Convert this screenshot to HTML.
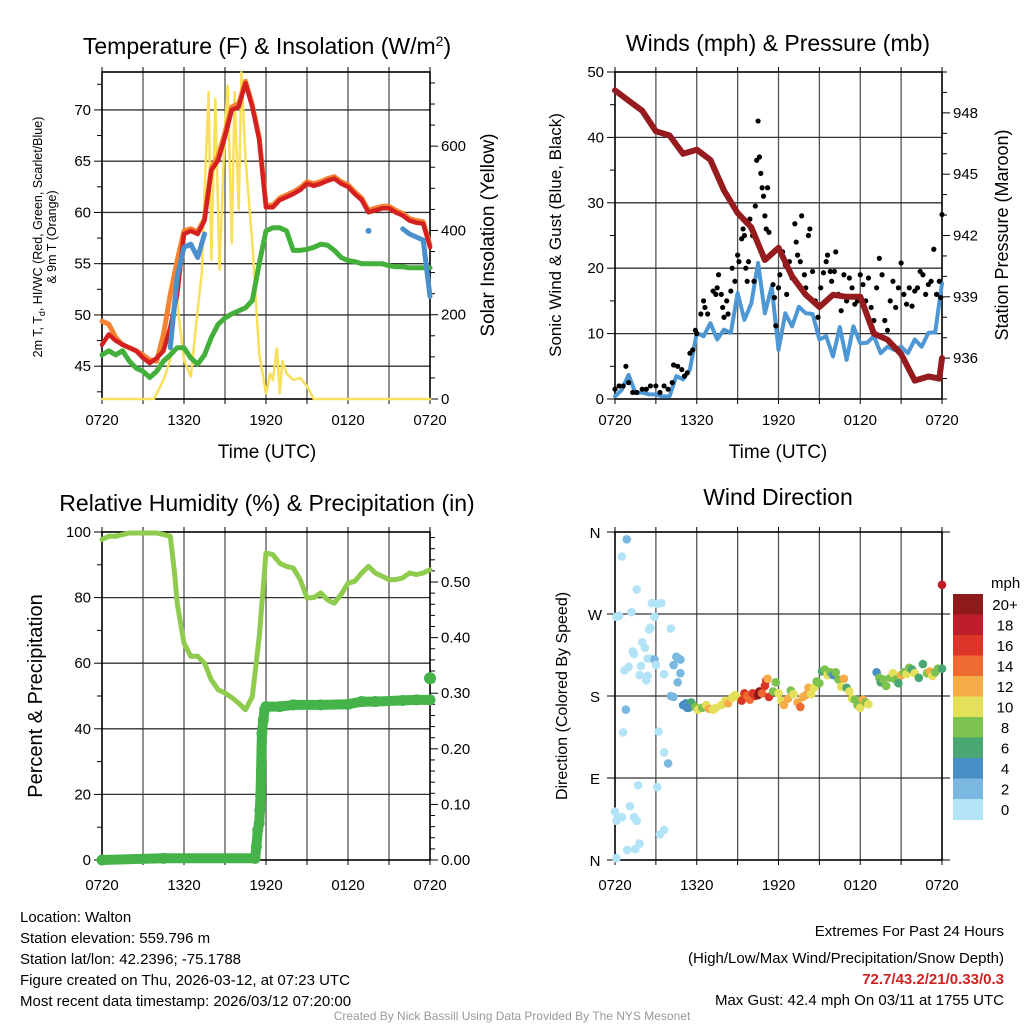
<!DOCTYPE html>
<html><head><meta charset="utf-8"><style>
html,body{margin:0;padding:0;background:#fff;}
svg{display:block;font-family:"Liberation Sans",Arial,sans-serif;}
</style></head><body>
<svg id="c" width="1024" height="1024" viewBox="0 0 1024 1024" xmlns="http://www.w3.org/2000/svg">
<g id="layer"></g>
<text x="267" y="54" font-size="23" text-anchor="middle">Temperature (F) &amp; Insolation (W/m<tspan dy="-8" font-size="14">2</tspan><tspan dy="8">)</tspan></text>
<text x="778" y="51" font-size="23" text-anchor="middle">Winds (mph) &amp; Pressure (mb)</text>
<text x="267" y="511" font-size="23" text-anchor="middle">Relative Humidity (%) &amp; Precipitation (in)</text>
<text x="778" y="505" font-size="23" text-anchor="middle">Wind Direction</text>
<text x="267" y="458" font-size="19" text-anchor="middle">Time (UTC)</text>
<text x="778" y="458" font-size="19" text-anchor="middle">Time (UTC)</text>
<text transform="translate(42,237) rotate(-90)" font-size="12.5" text-anchor="middle">2m T, T<tspan dy="3" font-size="9">d</tspan><tspan dy="-3">, HI/WC (Red, Green, Scarlet/Blue)</tspan></text>
<text transform="translate(56,237) rotate(-90)" font-size="12.5" text-anchor="middle">&amp; 9m T (Orange)</text>
<text transform="translate(494,235) rotate(-90)" font-size="19" text-anchor="middle">Solar Insolation (Yellow)</text>
<text transform="translate(561,235) rotate(-90)" font-size="17" text-anchor="middle">Sonic Wind &amp; Gust (Blue, Black)</text>
<text transform="translate(1008,235) rotate(-90)" font-size="18" text-anchor="middle">Station Pressure (Maroon)</text>
<text transform="translate(42,696) rotate(-90)" font-size="20" text-anchor="middle">Percent &amp; Precipitation</text>
<text transform="translate(567,696) rotate(-90)" font-size="16" text-anchor="middle">Direction (Colored By Speed)</text>
<text x="991" y="588" font-size="15">mph</text>
<g font-size="15">
<text x="20" y="922">Location: Walton</text>
<text x="20" y="943">Station elevation: 559.796 m</text>
<text x="20" y="964">Station lat/lon: 42.2396; -75.1788</text>
<text x="20" y="985">Figure created on Thu, 2026-03-12, at 07:23 UTC</text>
<text x="20" y="1006">Most recent data timestamp: 2026/03/12 07:20:00</text>
</g>
<g font-size="15" text-anchor="end">
<text x="1004" y="936">Extremes For Past 24 Hours</text>
<text x="1004" y="963">(High/Low/Max Wind/Precipitation/Snow Depth)</text>
<text x="1004" y="984" fill="#cc2222" font-weight="bold">72.7/43.2/21/0.33/0.3</text>
<text x="1004" y="1005">Max Gust: 42.4 mph On 03/11 at 1755 UTC</text>
</g>
<text x="512" y="1020" font-size="12" fill="#999" text-anchor="middle">Created By Nick Bassill Using Data Provided By The NYS Mesonet</text>
</svg>
<script>
// ---------- data ----------
const hh = [0,0.5,1,1.5,2,2.5,3,3.5,4,4.5,5,5.5,6,6.5,7,7.5,8,8.5,9,9.5,10,10.5,11,11.5,12,12.5,13,13.5,14,14.5,15,15.5,16,16.5,17,17.5,18,18.5,19,19.5,20,20.5,21,21.5,22,22.5,23,23.5,24];
const xTickLabels = ["0720","1320","1920","0120","0720"];
const tempRed = [47.1,48.1,47.5,47.1,46.8,46.5,45.8,45.3,45.8,46.5,48.8,52.0,57.9,58.2,57.9,59.2,64.1,65.1,67.4,70.0,70.3,72.6,70.3,67.1,60.5,60.5,61.2,61.5,61.8,62.2,62.8,62.6,62.8,63.1,63.3,62.8,62.5,61.8,61.2,60.0,60.2,60.4,60.4,60.0,59.7,59.2,59.0,58.9,56.6];
const temp9m = [49.4,49.1,47.8,47.1,46.8,46.5,46.1,45.6,45.5,48.1,52.0,55.3,58.2,58.4,58.1,59.4,64.3,65.5,67.8,70.3,70.6,72.8,70.5,67.3,60.7,60.7,61.4,61.7,62.0,62.4,63.0,62.8,63.0,63.3,63.5,63.0,62.7,62.0,61.4,60.2,60.4,60.6,60.6,60.2,59.9,59.4,59.2,59.1,56.8];
const tempHiWc = [null,null,null,null,null,null,null,null,null,null,46.8,53.7,56.6,56.9,55.6,57.9,null,null,null,null,null,null,null,null,null,null,null,null,null,null,null,null,null,null,null,null,null,null,null,58.2,null,null,null,null,58.4,57.9,57.6,57.3,51.8];
const dewpt = [46.1,46.5,46.1,46.5,45.5,44.8,44.5,43.9,44.5,45.5,46.1,46.8,46.8,45.8,45.2,46.1,47.8,49.1,49.7,50.1,50.4,50.7,51.4,55.0,58.2,58.5,58.5,58.2,56.3,56.3,56.4,56.6,56.9,56.8,56.3,55.6,55.3,55.2,55.0,55.0,55.0,55.0,54.8,54.7,54.7,54.6,54.6,54.6,54.6];
const solarT = [0,3.8,4,4.5,5,5.2,5.4,5.6,6,6.5,7,7.3,7.5,7.8,8,8.3,8.6,9,9.2,9.5,9.7,10,10.2,10.5,11,11.5,12,12.3,12.5,12.8,13,13.2,13.5,14,14.5,15,15.5,24];
const solarV = [0,0,13,45,93,180,280,200,93,53,212,300,490,728,330,712,307,648,744,370,728,450,775,569,370,108,13,60,45,120,13,90,61,45,50,30,0,0];
const presT = [0,1,2,3,4,5,6,7,8,9,10,11,12,13,14,15,16,17,18,19,20,21,22,23,23.8,24];
const presV = [949.1,948.6,948.1,947.1,946.9,946.0,946.2,945.7,944.2,943.1,942.4,940.8,941.4,940.0,939.1,938.5,939.1,939.0,939.0,937.2,936.9,936.2,934.9,935.1,935.0,936.0];
const sonic = [0.4,1.4,3.7,0.9,1.0,0.7,0.7,0.4,0.4,3.5,3.0,4.5,10.1,9.6,11.6,9.1,10.6,10.1,16.2,12.1,14.6,20.8,13.1,17.2,7.5,13.1,11.1,14.1,13.1,13.0,9.1,9.6,6.5,11.0,6.0,11.1,8.5,8.6,9.6,7.0,8.0,7.5,8.0,7.0,9.1,8.0,10.1,10.2,17.7];
const gustT = [0,0.3,0.6,0.8,1.0,1.3,1.6,2,2.3,2.6,3,3.3,3.6,3.9,4.2,4.3,4.6,4.9,5.1,5.3,5.5,5.7,5.9,6.0,6.3,6.5,6.6,6.8,7.2,7.4,7.5,7.6,7.8,7.9,8.0,8.2,8.3,8.5,8.6,8.8,9.0,9.1,9.3,9.4,9.5,9.6,9.7,9.8,9.9,10.0,10.1,10.2,10.3,10.4,10.5,10.6,10.7,10.8,10.9,11.0,11.1,11.2,11.3,11.6,11.7,11.8,12.0,12.1,12.3,12.5,12.6,12.8,13.0,13.2,13.3,13.4,13.6,13.7,13.9,14.0,14.2,14.3,14.5,14.7,14.9,15.1,15.3,15.5,15.6,15.8,15.9,16.1,16.2,16.4,16.6,16.8,17.0,17.2,17.4,17.6,17.8,18.0,18.2,18.4,18.6,18.8,19.0,19.2,19.4,19.6,19.8,20.0,20.2,20.4,20.6,20.8,21.0,21.2,21.4,21.6,21.8,22.0,22.2,22.4,22.6,22.8,23.0,23.2,23.4,23.6,23.8,23.9,24.0];
const gustV = [1.5,2,2,5,2.5,1,1,1.5,1.5,2,2,1,2,1.5,2.5,5.2,5,4.5,3.5,4,7,7.5,10.5,10,13,15,14,13,16.5,16,17,19,16,14,12.5,15,13,16.5,20,18,22,21,24.5,26,25,20,18,21,27.5,26,25,18,29.5,36.5,42.5,37,34.5,32.3,31,28,26,32.3,25.5,17.5,15.5,11.2,17,19,22.5,20.5,16,21,18.5,26.8,24,22,21,28,19,17,25,26,19.5,15,12.5,17,19.3,21,22,19.5,18,19.5,22.5,16,13.5,19,15,18.5,17,14.5,15,19,17.5,15,18.5,14,12,17,21.5,19,12,10.5,15,18,14,17,20.8,16,14.5,17,14.2,16.5,17,19.5,19,16,17.5,18,22.9,16,18,15.5,28.2];
const rhT = [0,0.5,1,1.5,2,3,4,4.5,5,5.3,5.5,6,6.5,7,7.5,8,8.5,9,9.5,10,10.5,11,11.5,11.8,12,12.5,13,13.5,14,14.5,15,15.5,16,16.5,17,17.5,18,18.5,19,19.5,20,20.5,21,21.5,22,22.5,23,23.5,24];
const rhV = [97.7,98.7,98.7,99.2,99.7,99.7,99.7,99.2,98.7,88,78.3,66.1,62.1,62.1,60,54.9,51.9,50.9,49.5,47.8,45.8,49.8,68,83.4,93.6,93.1,90.5,89.5,89,85.5,79.9,80,81.4,79.3,78.3,81,84.4,85,87.5,89.5,87.5,86.5,85.5,85.5,86,87.5,87,87.5,88.5];
const prT = [0,4.5,11.2,11.3,11.4,11.5,11.55,11.6,11.7,11.8,11.9,12,13,14,16,18,19,20,22,23,24];
const prV = [0,0.003,0.003,0.024,0.054,0.066,0.09,0.117,0.228,0.252,0.27,0.276,0.276,0.279,0.279,0.28,0.285,0.285,0.287,0.288,0.288];
const prLast = [24,0.327];
const dirT = [0.86,0.5,1.6,0.3,0.1,1.2,2.7,3.1,3.4,2.9,4.1,2.5,2.6,2.0,2.2,1.3,1.4,2.4,2.7,2.9,3.0,1.0,0.7,1.9,1.8,2.4,2.3,3.6,0.8,0.6,3.2,3.6,3.9,1.7,3.1,1.1,0.0,0.5,0.1,0.2,1.4,1.6,3.6,3.3,1.8,1.5,0.9,0.1,4.5,4.6,4.8,4.3,4.8,4.6,4.1,4.3,5.0,5.2,5.4,5.6,5.3,5.9,6.1,6.4,6.7,6.9,7.2,7.4,7.8,8.1,8.3,8.6,8.8,9.1,9.3,9.5,9.7,9.9,10.1,10.3,10.5,10.6,10.8,11.0,11.1,11.2,11.3,11.6,11.8,12.0,12.2,12.4,12.7,12.9,13.1,13.4,13.6,13.8,14.0,14.2,14.4,14.6,14.8,15.0,15.2,15.4,15.6,15.8,16.0,16.2,16.4,16.6,16.8,17.0,17.2,17.4,17.6,17.8,18.0,18.2,18.4,18.6,19.2,19.4,19.5,19.7,19.9,20.2,20.4,20.6,20.8,21.0,21.2,21.4,21.6,21.8,22.0,22.3,22.6,22.9,23.1,23.3,23.5,23.7,24.0,24.0];
const dirDeg = [352,333,297,268,267,272,282,281,282,267,254,253,255,239,233,229,226,221,221,220,214,212,208,213,203,202,197,204,165,140,141,118,106,82,80,59,53,47,43,47,47,43,33,28,18,12,11,2,223,222,220,214,205,195,180,179,170,172,167,173,167,168,165,167,170,166,165,167,170,175,172,178,181,178,175,183,180,176,183,180,181,185,183,191,197,199,179,185,195,183,175,170,177,186,182,173,168,179,181,189,182,189,196,194,207,209,203,206,203,206,198,190,199,189,185,177,176,170,167,176,173,171,206,200,195,198,191,200,205,198,194,203,206,204,211,209,205,200,215,205,207,202,206,210,210,302];
const dirSpd = [3,1,1,1,1,1,1,1,1,1,1,1,1,1,1,1,1,1,1,3,1,1,1,1,1,1,1,1,3,1,1,1,3,1,1,1,1,1,1,1,1,1,1,1,1,1,1,1,2,2,2,2,3,3,2,2,4,5,6,6,5,8,10,8,10,12,10,10,10,10,13,11,10,10,17,17,15,14,16,16,20,20,15,16,17,12,17,8,8,10,10,12,12,8,10,12,14,12,12,13,11,10,8,8,6,8,10,9,5,8,8,10,12,7,10,10,8,8,10,12,8,10,4,8,6,9,8,8,10,8,6,12,8,10,8,6,10,7,6,8,12,10,9,8,6,18];
const cbLabels = ["20+","18","16","14","12","10","8","6","4","2","0"];
const cbColors = ["#8e1a1c","#be1e2a","#dc3426","#ef6a30","#f6ac48","#e5e05a","#7cc24e","#4aa673","#4a8ec6","#7ab8e2","#b3e3f7"];

// ---------- drawing ----------
const NS="http://www.w3.org/2000/svg";
const layer=document.getElementById('layer');
function mk(tag,attrs,parent){const e=document.createElementNS(NS,tag);for(const k in attrs)e.setAttribute(k,attrs[k]);(parent||layer).appendChild(e);return e;}
function scale(d0,d1,r0,r1){return v=>r0+(v-d0)/(d1-d0)*(r1-r0);}

function frame(L,R,T,B,name,xLabels,lblOff){
  const g=mk('g',{});
  
  
  const X=scale(0,24,L,R);
  for(let h=3;h<24;h+=3){mk('line',{x1:X(h),x2:X(h),y1:T,y2:B,stroke:'#555','stroke-width':1.3},g);}
  for(let h=0;h<=24;h+=3){mk('line',{x1:X(h),x2:X(h),y1:B,y2:B+5,stroke:'#000','stroke-width':1},g);mk('line',{x1:X(h),x2:X(h),y1:T,y2:T-5,stroke:'#000','stroke-width':1},g);}
  if(xLabels){xLabels.forEach((s,i)=>{const t=mk('text',{x:X(i*6),y:B+lblOff,'font-size':15,'text-anchor':'middle'},g);t.textContent=s;
    
    });}
  return {X,g};
}
function yAxis(g,L,R,T,B,d0,d1,minor,major,labelFn,side,grid){
  const Y=scale(d0,d1,B,T);
  const start=Math.ceil(d0/minor-1e-9)*minor;
  for(let v=start;v<=d1+1e-9;v+=minor){const y=Y(v);const isMaj=Math.abs(v/major-Math.round(v/major))<1e-6;
    const x=side==='l'?L:R;const dx=side==='l'?-(isMaj?8:5):(isMaj?8:5);
    mk('line',{x1:x,x2:x+dx,y1:y,y2:y,stroke:'#000','stroke-width':1},g);
    if(isMaj){
      if(grid && y>T+1 && y<B-1) mk('line',{x1:L,x2:R,y1:y,y2:y,stroke:'#333','stroke-width':1.3},g);
      const t=mk('text',{x:side==='l'?L-11:R+11,y:y+5,'font-size':15,'text-anchor':side==='l'?'end':'start'},g);
      t.textContent=labelFn(v);
      
      
    }}
  return Y;
}
function border(g,L,R,T,B){mk('rect',{x:L,y:T,width:R-L,height:B-T,fill:'none',stroke:'#000','stroke-width':1.6},g);}
function path(ts,vs,X,Y,attrs,name){
  let d='',pen=false;
  ts.forEach((t,i)=>{const v=vs[i];if(v===null||v===undefined){pen=false;return;}d+=(pen?'L':'M')+X(t).toFixed(1)+' '+Y(v).toFixed(1);pen=true;});
  const p=mk('path',Object.assign({d:d,fill:'none','stroke-linejoin':'round','stroke-linecap':'round'},attrs));
  
  
  return p;
}

// Panel 1: temperature
{const L=102,R=430,T=72,B=399;
 const {X,g}=frame(L,R,T,B,'temperature',xTickLabels,26);
 const Yt=yAxis(g,L,R,T,B,41.8,73.7,2.5,5,v=>String(Math.round(v)),'l',true);
 const Ys=yAxis(g,L,R,T,B,0,776,50,200,v=>String(v),'r',false);
 path(solarT,solarV,X,Ys,{stroke:'#f8e05a','stroke-width':2.5},'solar-insolation-line');
 path(hh,temp9m,X,Yt,{stroke:'#f58231','stroke-width':5},'temp-9m-line');
 path(hh,tempRed,X,Yt,{stroke:'#d42020','stroke-width':4.5},'temp-2m-line');
 path(hh,dewpt,X,Yt,{stroke:'#44b03c','stroke-width':5},'dewpoint-line');
 path(hh,tempHiWc,X,Yt,{stroke:'#4a90cc','stroke-width':5},'heat-index-windchill-line');
 hh.forEach((t,i)=>{const v=tempHiWc[i];if(v!==null&&(i===0||tempHiWc[i-1]===null)&&(i===48||tempHiWc[i+1]===null)){const c=mk('circle',{cx:X(t),cy:Yt(v),r:3,fill:'#4a90cc'});
   
   }});
 border(g,L,R,T,B);}

// Panel 2: winds & pressure
{const L=615,R=942,T=72,B=399;
 const {X,g}=frame(L,R,T,B,'winds',xTickLabels,26);
 const Yw=yAxis(g,L,R,T,B,0,50,5,10,v=>String(v),'l',true);
 const Yp=yAxis(g,L,R,T,B,934,950,1,3,v=>String(v),'r',false);
 path(hh,sonic,X,Yw,{stroke:'#4d98d4','stroke-width':4},'sonic-wind-line');
 gustT.forEach((t,i)=>{const c=mk('circle',{cx:X(t),cy:Yw(gustV[i]),r:2.6,fill:'#000'});
   
   });
 path(presT,presV,X,Yp,{stroke:'#961b1e','stroke-width':6},'pressure-line');
 border(g,L,R,T,B);}

// Panel 3: RH & precip
{const L=102,R=430,T=532,B=860;
 const {X,g}=frame(L,R,T,B,'humidity',xTickLabels,30);
 const Yr=yAxis(g,L,R,T,B,0,100,10,20,v=>String(v),'l',true);
 const Yq=yAxis(g,L,R,T,B,0,0.59,0.02,0.1,v=>v.toFixed(2),'r',false);
 path(rhT,rhV,X,Yr,{stroke:'#8fcc4e','stroke-width':5},'relative-humidity-line');
 path(prT,prV,X,Yq,{stroke:'#45b34a','stroke-width':10},'precipitation-line');
 prT.forEach((t,i)=>{const c=mk('circle',{cx:X(t),cy:Yq(prV[i]),r:5.5,fill:'#45b34a'});
   
   });
 const c=mk('circle',{cx:X(prLast[0]),cy:Yq(prLast[1]),r:6,fill:'#45b34a'});
 
 
 border(g,L,R,T,B);}

// Panel 4: wind direction
{const L=615,R=942,T=532,B=860;
 const {X,g}=frame(L,R,T,B,'wind-direction',xTickLabels,30);
 const Yd=scale(0,360,B,T);
 ["N","E","S","W","N"].forEach((s,i)=>{const y=Yd(i*90);
   if(i>0&&i<4) mk('line',{x1:L,x2:R,y1:y,y2:y,stroke:'#333','stroke-width':1.3},g);
   mk('line',{x1:L-8,x2:L,y1:y,y2:y,stroke:'#000'},g);mk('line',{x1:R,x2:R+8,y1:y,y2:y,stroke:'#000'},g);
   const t=mk('text',{x:L-20,y:y+6,'font-size':15,'text-anchor':'middle'},g);t.textContent=s;
   
   });
 dirT.forEach((t,i)=>{const bin=Math.min(10,Math.floor(dirSpd[i]/2));
   const c=mk('circle',{cx:X(t),cy:Yd(dirDeg[i]),r:4.3,fill:cbColors[10-bin]});
   
   });
 border(g,L,R,T,B);
 const cb=mk('g',{});
 
 
 const h=20.5;
 cbColors.forEach((col,i)=>{mk('rect',{x:953,y:594+i*h,width:30,height:h+0.5,fill:col},cb);
   const t=mk('text',{x:1005,y:594+i*h+h/2+5.5,'font-size':15,'text-anchor':'middle'},cb);t.textContent=cbLabels[i];
   
   });
}
</script>
</body></html>
